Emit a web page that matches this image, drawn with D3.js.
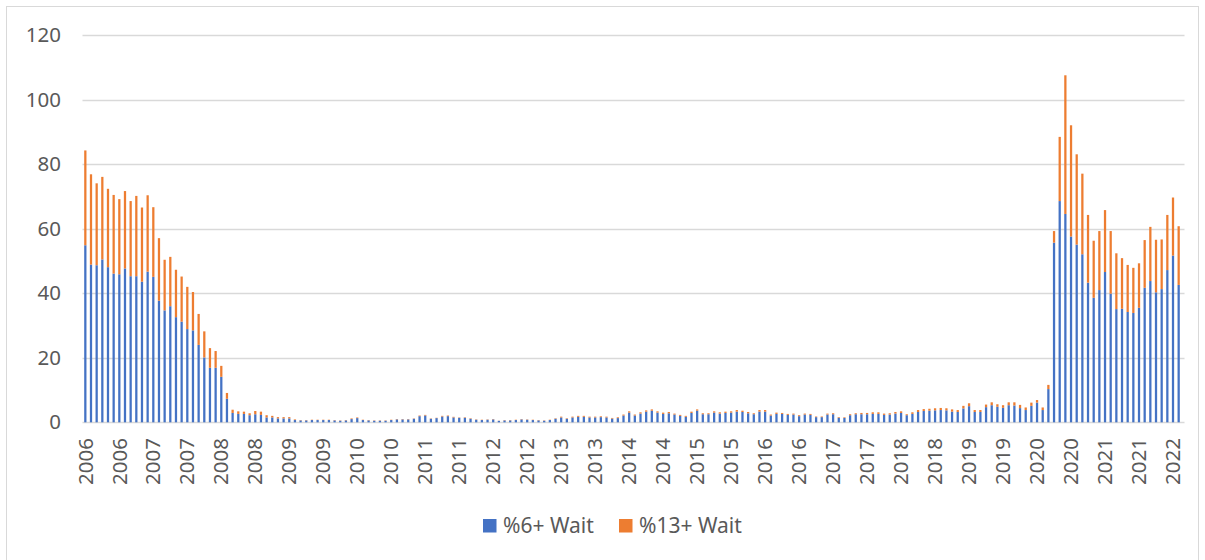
<!DOCTYPE html>
<html lang="en">
  <head>
    <meta charset="UTF-8" />
    <title>Wait</title>
    <script src="https://d3js.org/d3.v7.min.js"></script>
    <style>
      body { margin: 0; background: #fff; }
      text { font-family: "Noto Sans", sans-serif; fill: #595959; }
    </style>
  </head>
  <body>
    <div id="chart"></div>
    <script>
      // monthly values, Jan 2006 .. Feb 2022
      const six = [
        54.9, 48.9, 48.7, 50.5, 48.1, 46.1, 45.9, 47.7, 45.3, 45.3, 43.6, 46.7,
        45.1, 37.7, 34.7, 36.0, 32.6, 31.2, 28.9, 28.5, 24.0, 20.1, 16.9, 16.9,
        14.1, 7.3, 2.9, 2.6, 2.6, 2.2, 2.5, 2.3, 1.5, 1.5, 1.2, 1.2,
        1.2, 0.7, 0.6, 0.6, 0.7, 0.7, 0.7, 0.7, 0.6, 0.5, 0.6, 1.0,
        1.3, 0.7, 0.6, 0.5, 0.5, 0.5, 0.7, 0.9, 0.9, 0.9, 1.1, 1.9,
        2.1, 1.1, 1.3, 1.8, 1.9, 1.5, 1.4, 1.4, 1.1, 0.8, 0.7, 0.8,
        0.9, 0.45, 0.6, 0.6, 0.7, 0.9, 0.8, 0.7, 0.6, 0.5, 0.7, 1.1,
        1.5, 1.1, 1.5, 1.7, 1.7, 1.5, 1.5, 1.6, 1.5, 1.15, 1.3, 2.1,
        3.0, 2.1, 2.7, 3.3, 3.6, 3.0, 2.6, 2.8, 2.4, 2.0, 1.7, 2.9,
        3.6, 2.5, 2.5, 3.0, 2.7, 2.9, 3.0, 3.3, 3.2, 2.8, 2.5, 3.3,
        3.3, 2.1, 2.6, 2.6, 2.3, 2.4, 1.9, 2.4, 2.3, 1.6, 1.6, 2.4,
        2.5, 1.4, 1.35, 2.2, 2.5, 2.5, 2.5, 2.6, 2.6, 2.3, 2.4, 2.7,
        2.9, 2.2, 2.6, 3.2, 3.5, 3.6, 3.7, 3.8, 3.7, 3.3, 3.2, 4.3,
        5.0, 3.2, 3.2, 4.7, 5.3, 4.8, 4.5, 5.3, 5.2, 4.4, 3.8, 5.1,
        6.1, 3.8, 10.3, 55.7, 68.6, 64.6, 57.6, 55.1, 52.1, 43.3, 38.6, 41.0,
        46.6, 39.9, 35.1, 35.2, 34.2, 33.9, 35.5, 41.7, 43.8, 40.3, 41.3, 47.2,
        51.7, 42.6
      ];
      const thirteen = [
        29.4, 28.0, 25.4, 25.6, 24.3, 24.4, 23.3, 24.0, 23.3, 24.9, 23.0, 23.7,
        21.6, 19.4, 15.7, 15.3, 14.7, 14.0, 13.1, 11.9, 9.6, 8.1, 6.1, 5.2,
        3.4, 1.8, 1.0, 0.8, 0.7, 0.6, 1.0, 1.0, 0.7, 0.5, 0.4, 0.4,
        0.4, 0.2, 0.1, 0.1, 0.1, 0.1, 0.1, 0.1, 0.1, 0.1, 0.1, 0.2,
        0.2, 0.1, 0.1, 0.1, 0.1, 0.1, 0.1, 0.1, 0.1, 0.1, 0.1, 0.2,
        0.2, 0.1, 0.1, 0.2, 0.2, 0.2, 0.1, 0.15, 0.15, 0.1, 0.1, 0.1,
        0.1, 0.05, 0.1, 0.1, 0.1, 0.1, 0.1, 0.1, 0.1, 0.1, 0.1, 0.15,
        0.25, 0.15, 0.25, 0.3, 0.3, 0.25, 0.25, 0.25, 0.25, 0.2, 0.25, 0.3,
        0.4, 0.3, 0.4, 0.4, 0.4, 0.4, 0.4, 0.4, 0.3, 0.3, 0.3, 0.4,
        0.4, 0.3, 0.3, 0.4, 0.4, 0.4, 0.4, 0.5, 0.4, 0.4, 0.3, 0.5,
        0.5, 0.3, 0.4, 0.3, 0.3, 0.3, 0.3, 0.3, 0.3, 0.2, 0.2, 0.3,
        0.3, 0.2, 0.2, 0.3, 0.3, 0.4, 0.4, 0.5, 0.5, 0.4, 0.4, 0.5,
        0.5, 0.3, 0.5, 0.6, 0.6, 0.6, 0.65, 0.65, 0.65, 0.7, 0.6, 0.8,
        0.9, 0.6, 0.6, 0.8, 0.9, 0.8, 0.8, 0.9, 1.0, 1.0, 0.8, 1.0,
        0.8, 0.8, 1.3, 3.6, 19.9, 43.0, 34.5, 28.0, 25.0, 21.0, 17.7, 18.3,
        19.2, 19.4, 17.3, 15.7, 14.6, 14.0, 13.8, 14.8, 16.8, 16.3, 15.4, 17.1,
        18.0, 18.2
      ];
      // one label shown every 6 months
      const tickLabels = [
        "2006", "2006", "2007", "2007", "2008", "2008", "2009", "2009",
        "2010", "2010", "2011", "2011", "2012", "2012", "2013", "2013",
        "2014", "2014", "2015", "2015", "2016", "2016", "2017", "2017",
        "2018", "2018", "2019", "2019", "2020", "2020", "2021", "2021", "2022"
      ];
      const yTicks = [0, 20, 40, 60, 80, 100, 120];
      const keys = ["six", "thirteen"];
      const seriesNames = ["%6+ Wait", "%13+ Wait"];
      const colors = ["#4472C4", "#ED7D31"];

      const W = 1205, H = 560;
      const plotLeft = 82.5, plotRight = 1181.5, plotTop = 35.3, plotBottom = 422.3;

      const svg = d3.select("#chart").append("svg")
        .attr("width", W).attr("height", H);

      // chart area border
      svg.append("rect")
        .attr("x", 6.5).attr("y", 6.5)
        .attr("width", 1192).attr("height", 560)
        .attr("fill", "none").attr("stroke", "#d9d9d9");

      const rows = six.map((v, i) => ({ i: i, six: v, thirteen: thirteen[i] }));

      const x = d3.scaleBand()
        .domain(d3.range(rows.length))
        .range([plotLeft, plotRight])
        .paddingInner(0.6)
        .paddingOuter(0.3);

      const y = d3.scaleLinear().domain([0, 120]).range([plotBottom, plotTop]);

      // gridlines
      svg.append("g")
        .selectAll("line")
        .data(yTicks)
        .join("line")
        .attr("x1", plotLeft).attr("x2", 1184.5)
        .attr("y1", d => Math.round(y(d)) + 0.5)
        .attr("y2", d => Math.round(y(d)) + 0.5)
        .attr("stroke", "#d9d9d9")
        .attr("stroke-width", 1.3);

      svg.append("g")
        .selectAll("text")
        .data(yTicks)
        .join("text")
        .attr("x", 61)
        .attr("y", d => y(d))
        .attr("dy", "0.35em")
        .attr("text-anchor", "end")
        .style("font-size", "20.5px")
        .text(d => d);

      const stacked = d3.stack().keys(keys)(rows);

      svg.append("g")
        .selectAll("g")
        .data(stacked)
        .join("g")
        .attr("fill", (d, k) => colors[k])
        .selectAll("rect")
        .data(d => d)
        .join("rect")
        .attr("x", d => x(d.data.i))
        .attr("y", d => y(d[1]))
        .attr("width", x.bandwidth())
        .attr("height", d => y(d[0]) - y(d[1]));

      // x labels, every 6th bar
      svg.append("g")
        .selectAll("text")
        .data(tickLabels)
        .join("text")
        .attr("transform", (d, k) =>
          "translate(" + (x(k * 6) + x.bandwidth() / 2) + ",438) rotate(-90)")
        .attr("dy", "0.35em")
        .attr("text-anchor", "end")
        .style("font-size", "20.5px")
        .text(d => d);

      // legend
      const legendX = [483, 619];
      const lg = svg.append("g")
        .selectAll("g")
        .data(seriesNames)
        .join("g")
        .attr("transform", (d, k) => "translate(" + legendX[k] + ",519)");
      lg.append("rect")
        .attr("width", 13.5).attr("height", 13.5)
        .attr("fill", (d, k) => colors[k]);
      lg.append("text")
        .attr("x", 20)
        .attr("y", 7)
        .attr("dy", "0.35em")
        .style("font-size", "21px")
        .text(d => d);
    </script>
  </body>
</html>
